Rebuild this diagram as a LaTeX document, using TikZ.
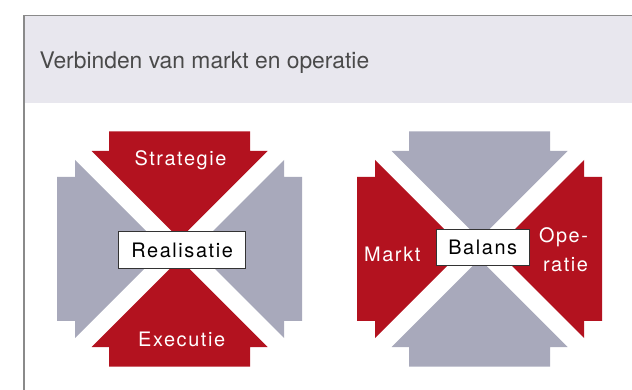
\documentclass[tikz,border=0pt]{standalone}
\usepackage{fontspec}
\setmainfont{TeX Gyre Heros}
\newfontfamily\spacedfont[LetterSpace=8]{TeX Gyre Heros}
\usepackage{tikz}
\definecolor{armred}{HTML}{B3121F}
\definecolor{armgrey}{HTML}{A8A9BB}
\definecolor{bandgrey}{HTML}{E8E7EE}
\definecolor{framegrey}{HTML}{8A8A8A}
\definecolor{titlegrey}{HTML}{4A4A4A}
\tikzstyle{redarm} = [fill=armred]
\tikzstyle{greyarm} = [fill=armgrey]
\tikzstyle{armlabel} = [text=white, inner sep=0pt, font=\spacedfont\fontsize{17}{25}\selectfont]
\tikzstyle{centerbox} = [draw=black!80, fill=white, line width=0.3mm, inner sep=0pt, font=\spacedfont\fontsize{17}{20}\selectfont]

\begin{document}
\begin{tikzpicture}[x=0.3mm, y=-0.3mm]
      \useasboundingbox (0, 0) rectangle (632, 390);
      % header band and frame
      \fill[bandgrey] (24, 15.7) rectangle (632, 103.3);
      \draw[framegrey, line width=0.45mm] (632, 15.7) -- (24, 15.7) -- (24, 390);
      \node[anchor=base west, inner sep=0pt, text=titlegrey, font=\fontsize{19.5}{22}\selectfont] (title) at (39.3, 69) {Verbinden van markt en operatie};

      % left figure
      \begin{scope}[shift={(179.5, 249)}]
        \fill[redarm] (-70.5, -117.5) -- (70.5, -117.5) -- (70.5, -98) -- (88, -98) -- (0, -10) -- (-88, -98) -- (-70.5, -98) -- cycle;
        \fill[redarm] (-70.5, 117.5) -- (70.5, 117.5) -- (70.5, 98) -- (88, 98) -- (0, 10) -- (-88, 98) -- (-70.5, 98) -- cycle;
        \fill[greyarm] (-122.5, -72) -- (-122.5, 72) -- (-104.5, 72) -- (-104.5, 89) -- (-15.5, 0) -- (-104.5, -89) -- (-104.5, -72) -- cycle;
        \fill[greyarm] (122.5, -72) -- (122.5, 72) -- (104.5, 72) -- (104.5, 89) -- (15.5, 0) -- (104.5, -89) -- (104.5, -72) -- cycle;
      \end{scope}
      \node[armlabel, anchor=base] (strategie) at (180.5, 165.7) {Strategie};
      \node[armlabel, anchor=base] (executie) at (181.7, 346.7) {Executie};
      \node[centerbox, minimum width=38.1mm, minimum height=11mm] (realisatie) at (182.1, 250) {Realisatie};

      % right figure
      \begin{scope}[shift={(479.5, 249)}]
        \fill[greyarm] (-70.5, -117.5) -- (70.5, -117.5) -- (70.5, -98) -- (88, -98) -- (0, -10) -- (-88, -98) -- (-70.5, -98) -- cycle;
        \fill[greyarm] (-70.5, 117.5) -- (70.5, 117.5) -- (70.5, 98) -- (88, 98) -- (0, 10) -- (-88, 98) -- (-70.5, 98) -- cycle;
        \fill[redarm] (-122.5, -72) -- (-122.5, 72) -- (-104.5, 72) -- (-104.5, 89) -- (-15.5, 0) -- (-104.5, -89) -- (-104.5, -72) -- cycle;
        \fill[redarm] (122.5, -72) -- (122.5, 72) -- (104.5, 72) -- (104.5, 89) -- (15.5, 0) -- (104.5, -89) -- (104.5, -72) -- cycle;
      \end{scope}
      \node[armlabel, anchor=base] (markt) at (392.3, 261.7) {Markt};
      \node[armlabel, anchor=base east, align=right] (operatie) at (588.3, 271.7) {Ope-\\ratie};
      \node[centerbox, minimum width=28mm, minimum height=10.9mm] (balans) at (482.7, 247.5) {Balans};
    \end{tikzpicture}
\end{document}
